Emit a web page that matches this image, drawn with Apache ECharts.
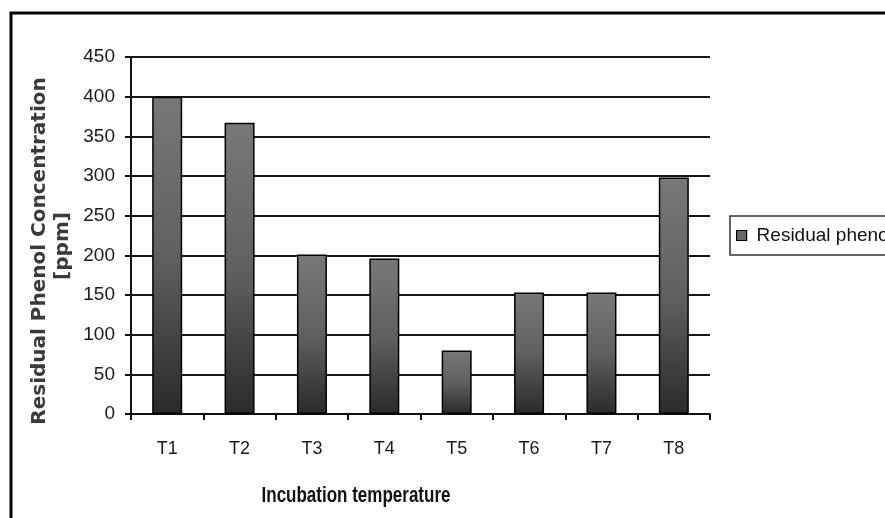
<!DOCTYPE html>
<html>
<head>
<meta charset="utf-8">
<script src="https://cdn.jsdelivr.net/npm/echarts@6/dist/echarts.min.js"></script>
<style>
  html, body { margin: 0; padding: 0; background: #fff; }
  #chart { width: 885px; height: 518px; }
</style>
</head>
<body>
<div id="chart"></div>
<script>
// Residual phenol left after incubation at each temperature setting
const categories = ['T1', 'T2', 'T3', 'T4', 'T5', 'T6', 'T7', 'T8'];
const residualPhenol = [400, 367, 201, 196, 80, 153, 153, 298];
const seriesName = 'Residual phenol';
const yTitleLine1 = 'Residual Phenol Concentration';
const yTitleLine2 = '[ppm]';
const xTitle = 'Incubation temperature';

const sans = '"Liberation Sans", Arial, sans-serif';
const wide = '"DejaVu Sans", Verdana, sans-serif';

const barFill = new echarts.graphic.LinearGradient(0, 0, 0, 1, [
  { offset: 0, color: '#787878' },
  { offset: 0.5, color: '#606060' },
  { offset: 1, color: '#2a2a2a' }
]);

const chart = echarts.init(document.getElementById('chart'), null, { renderer: 'canvas' });
chart.setOption({
  animation: false,
  backgroundColor: '#ffffff',
  grid: { left: 131, right: 175, top: 57, bottom: 104, containLabel: false },
  legend: {
    left: 730, top: 216,
    orient: 'vertical',
    padding: [10, 60, 10, 6],
    itemWidth: 10, itemHeight: 10, itemGap: 0,
    borderColor: '#333', borderWidth: 1.5,
    icon: 'rect',
    itemStyle: { color: '#666', borderColor: '#000', borderWidth: 1.2 },
    textStyle: { fontFamily: sans, fontSize: 19, color: '#111', padding: [0, 0, 0, 5] },
    data: [seriesName]
  },
  xAxis: {
    type: 'category',
    data: categories,
    boundaryGap: true,
    axisLine: { show: true, lineStyle: { color: '#111', width: 2 } },
    axisTick: { show: true, alignWithLabel: false, length: 6, lineStyle: { color: '#111', width: 2 } },
    axisLabel: { margin: 26, fontFamily: sans, fontSize: 18, color: '#1a1a1a' },
    splitLine: { show: false }
  },
  yAxis: {
    type: 'value',
    min: 0, max: 450, interval: 50,
    axisLine: { show: true, lineStyle: { color: '#111', width: 2 } },
    axisTick: { show: true, length: 6, lineStyle: { color: '#111', width: 2 } },
    axisLabel: { margin: 16, fontFamily: sans, fontSize: 19, color: '#1a1a1a' },
    splitLine: { show: true, lineStyle: { color: '#151515', width: 2 } }
  },
  series: [{
    name: seriesName,
    type: 'bar',
    data: residualPhenol,
    barWidth: 30,
    itemStyle: { color: barFill, borderColor: '#000', borderWidth: 1.5 },
    emphasis: { disabled: true }
  }],
  graphic: [
    {
      type: 'rect',
      shape: { x: 11, y: 13, width: 900, height: 540 },
      style: { fill: null, stroke: '#000', lineWidth: 3 },
      silent: true, z: 100
    },
    {
      type: 'text',
      x: 40, y: 251, rotation: Math.PI / 2,
      style: {
        text: yTitleLine1, fontFamily: wide, fontWeight: 'bold', fontSize: 20,
        fill: '#3a3a3a', align: 'center', verticalAlign: 'middle'
      }
    },
    {
      type: 'text',
      x: 63, y: 246, rotation: Math.PI / 2,
      style: {
        text: yTitleLine2, fontFamily: wide, fontWeight: 'bold', fontSize: 20,
        fill: '#3a3a3a', align: 'center', verticalAlign: 'middle'
      }
    },
    {
      type: 'text',
      x: 356, y: 496, scaleY: 1.3,
      style: {
        text: xTitle, fontFamily: sans, fontWeight: 'bold', fontSize: 17,
        fill: '#111', align: 'center', verticalAlign: 'middle'
      }
    }
  ]
});
</script>
</body>
</html>
